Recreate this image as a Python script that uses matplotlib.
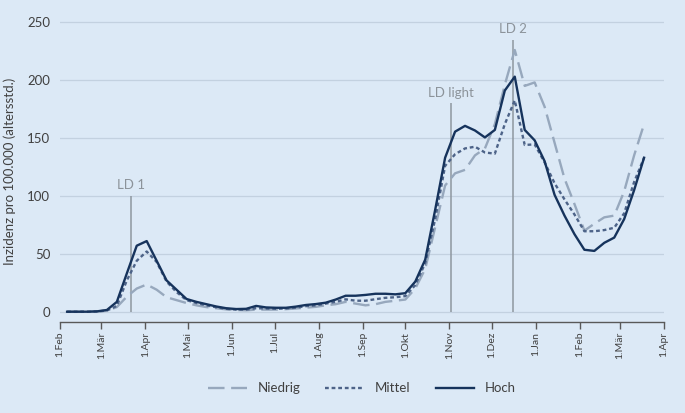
#!/usr/bin/env python3

import numpy as np
import pandas as pd
import matplotlib
matplotlib.use("Agg")
import matplotlib.pyplot as plt
import matplotlib.dates as mdates
from matplotlib.ticker import FixedLocator

# weekly values, first week centred on 6 Feb 2020
weeks = pd.date_range("2020-02-06", periods=59, freq="7D")

niedrig = [0, 0, 0, 0.2, 0.8, 4, 13, 20, 23.5, 19, 12.5, 10, 7.5, 5.5, 4, 3, 2, 1.5, 1.2, 1.8,
           1.8, 1.8, 2.2, 2.8, 3.5, 4.2, 5.5, 6.5, 8.5, 7, 5.5, 6.5, 8.5, 9.5, 10.5, 20, 37, 73,
           109, 119.5, 122.5, 135, 141, 162, 196, 226, 195, 198, 177, 146, 115, 93, 70, 76,
           81.5, 83, 104, 135, 162]
mittel = [0, 0, 0, 0.2, 1, 5, 27, 44, 52, 43, 26, 17, 10, 7.5, 5.5, 3.8, 2.5, 1.8, 1.8, 3,
          2.8, 2.5, 2.8, 3.5, 4.8, 5.5, 7, 8.5, 10.7, 9.5, 9.5, 10.8, 12, 12.5, 13.5, 23, 42, 80,
          126, 136, 141, 142.5, 137.5, 136.5, 162, 182.5, 144, 144.5, 129, 111, 97, 84, 69.5,
          69.5, 70.5, 72.5, 85, 112, 133]
hoch = [0, 0, 0, 0.3, 1.5, 8.5, 33, 57, 61, 44, 27, 19, 11, 8.5, 6.5, 4.5, 3, 2.3, 2.5, 5,
        3.7, 3.4, 3.4, 4.4, 5.8, 6.6, 7.8, 10.5, 13.8, 13.8, 14.5, 15.5, 15.5, 15, 16, 26, 45, 88,
        133, 155.5, 160.5, 156.5, 150.5, 157, 191, 203, 157, 148, 130, 101, 83, 67, 53.5,
        52.5, 59.5, 64, 80, 105, 133]

# lockdown markers
ld_labels = ["LD 1", "LD light", "LD 2"]
ld_dates = pd.to_datetime(["2020-03-22", "2020-11-02", "2020-12-16"])
ld_heights = [100, 180, 235]

tick_dates = pd.date_range("2020-02-01", "2021-04-01", freq="MS")
tick_names = ["1.Feb", "1.Mär", "1.Apr", "1.Mai", "1.Jun", "1.Jul", "1.Aug", "1.Sep",
              "1.Okt", "1.Nov", "1.Dez", "1.Jan", "1.Feb", "1.Mär", "1.Apr"]

bg = "#dce9f6"
txt = "#404040"
plt.rcParams['font.family'] = ['Lato', 'DejaVu Sans']

fig = plt.figure(figsize=(6.85, 4.13), dpi=100, facecolor=bg)
ax = fig.add_axes([0.0876, 0.2203, 0.8817, 0.7287], facecolor=bg)

ax.set_xlim(tick_dates[0], tick_dates[-1])
ax.set_ylim(-8.9, 251)
ax.set_yticks([0, 50, 100, 150, 200, 250])
ax.grid(axis='y', color='#c3d1e0', linewidth=0.9)
ax.set_axisbelow(True)

for d, h, lab in zip(ld_dates, ld_heights, ld_labels):
    ax.vlines(d, 0, h, color='#8e979f', linewidth=1.1, zorder=1)
    ax.text(d, h + 4, lab, ha='center', va='bottom', fontsize=9.5, color='#8c939a')

ax.plot(weeks, niedrig, color='#97a8bd', linewidth=1.7, dashes=(7, 2.8), label='Niedrig', zorder=2)
ax.plot(weeks, mittel, color='#4d6388', linewidth=1.7, dashes=(1.6, 1.2), label='Mittel', zorder=3)
ax.plot(weeks, hoch, color='#16335c', linewidth=1.7, label='Hoch', zorder=4)

ax.xaxis.set_major_locator(FixedLocator(mdates.date2num(tick_dates)))
ax.set_xticklabels(tick_names, rotation=90, fontsize=7.5, color=txt)
ax.tick_params(axis='x', direction='out', length=5, color='#595959', width=1, pad=2)
ax.tick_params(axis='y', length=0, labelsize=9.5, labelcolor=txt, pad=7)

for s in ['top', 'right', 'left']:
    ax.spines[s].set_visible(False)
ax.spines['bottom'].set_color('#595959')
ax.spines['bottom'].set_linewidth(1)

ax.set_ylabel('Inzidenz pro 100.000 (altersstd.)', fontsize=9.5, color=txt, labelpad=8)

leg = ax.legend(loc='center', bbox_to_anchor=(0.5, -0.22), ncol=3, frameon=False,
                fontsize=9.5, handlelength=2.95, columnspacing=1.9, handletextpad=0.8)
for t in leg.get_texts():
    t.set_color(txt)

fig.savefig('out.png', dpi=100, facecolor=bg)
